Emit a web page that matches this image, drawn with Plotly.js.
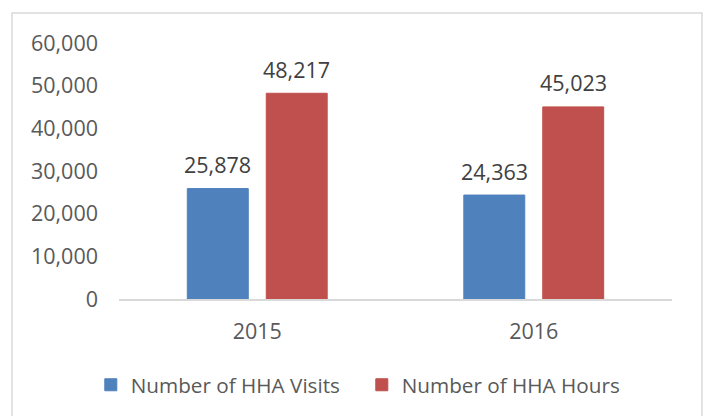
<!DOCTYPE html>
<html><head><meta charset="utf-8">
<script src="https://cdn.plot.ly/plotly-3.0.1.min.js"></script>
<style>html,body{margin:0;padding:0;background:#fff}#chart{width:705px;height:416px}</style>
</head><body><div id="chart"></div>
<script>
const years = ['2015', '2016'];
const visits = [25878, 24363];
const hours = [48217, 45023];
const seriesNames = ['Number of HHA Visits', 'Number of HHA Hours'];
const yTicks = [0, 10000, 20000, 30000, 40000, 50000, 60000];
const yTickText = ['0', '10,000', '20,000', '30,000', '40,000', '50,000', '60,000'];

const colors = ['#4F81BD', '#C0504D'];
const FONT = 'Open Sans, sans-serif';

const traces = [visits, hours].map((vals, i) => ({
  type: 'bar', x: years, y: vals, name: seriesNames[i],
  marker: {color: colors[i], line: {color: colors[i], width: 1}}, hoverinfo: 'skip'
}));

const annotations = [];
[visits, hours].forEach((vals, i) => {
  vals.forEach((v, j) => {
    annotations.push({
      x: j, y: v, xref: 'x', yref: 'y',
      xshift: i === 0 ? -39.5 : 39.5, yshift: 24,
      text: v.toLocaleString('en-US'), showarrow: false,
      font: {family: FONT, size: 21.5, color: '#404040'}
    });
  });
});

const layout = {
  width: 705, height: 416,
  margin: {l: 119, r: 33, t: 43, b: 116},
  paper_bgcolor: '#fff', plot_bgcolor: '#fff',
  barmode: 'group', bargap: 0.429, bargroupgap: 0.228,
  showlegend: true,
  legend: {orientation: 'h', x: -0.051, xanchor: 'left', y: -0.33, yanchor: 'middle',
    entrywidth: 226, entrywidthmode: 'pixels',
    font: {family: FONT, size: 20.7, color: '#595959'}, traceorder: 'normal'},
  xaxis: {type: 'category', range: [-0.5, 1.5], autorange: false, showgrid: false, showline: true,
    linecolor: '#D9D9D9', linewidth: 1.5,
    ticks: '', ticklabelstandoff: 13, tickfont: {family: FONT, size: 21.5, color: '#595959'}, zeroline: false},
  yaxis: {range: [0, 60000], tickvals: yTicks, ticktext: yTickText, showgrid: false, showline: false,
    zeroline: false, ticks: '', ticklabelstandoff: 20, tickfont: {family: FONT, size: 21.5, color: '#595959'}},
  annotations: annotations,
  shapes: [{type: 'rect', xref: 'paper', yref: 'paper', x0: -0.1935, x1: 1.0542, y0: -0.48, y1: 1.1167,
    line: {color: '#D9D9D9', width: 1.5}, fillcolor: 'rgba(0,0,0,0)', layer: 'below'}]
};

Plotly.newPlot('chart', traces, layout, {displayModeBar: false, staticPlot: true});
</script></body></html>
